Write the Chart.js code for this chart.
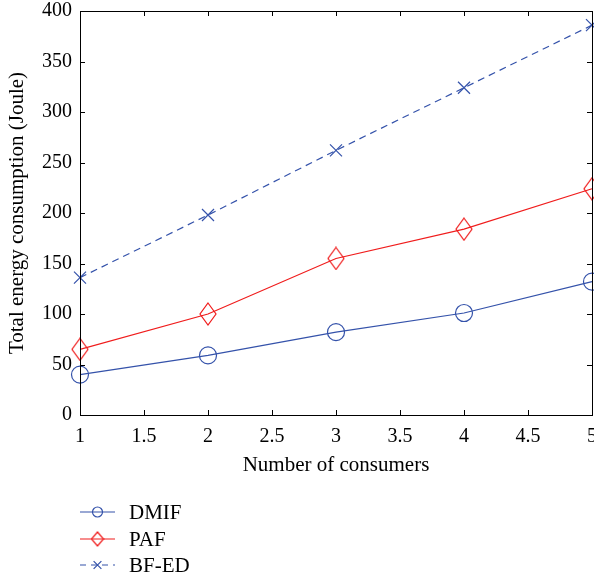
<!DOCTYPE html>
<html lang="en">
<head>
<meta charset="UTF-8" />
<title>Total energy consumption</title>
<style>
  html, body { margin: 0; padding: 0; background: #fff; }
  .box { width: 594px; height: 578px; position: relative; }
</style>
</head>
<body>
<div class="box"><canvas id="energyChart" width="594" height="578"></canvas></div>
<script src="https://cdn.jsdelivr.net/npm/chart.js@4/dist/chart.umd.min.js"></script>
<script>
const consumers = [1, 2, 3, 4, 5];
const dmif = [40, 59, 82, 101, 132];
const paf = [65, 100, 155, 184, 224];
const bfed = [136, 198, 262, 324, 386];
const seriesNames = ['DMIF', 'PAF', 'BF-ED'];

const FONT = '"Liberation Serif", "Times New Roman", serif';
const BLUE = 'rgb(52, 82, 170)';
const RED = 'rgb(240, 28, 28)';
const NONE = 'rgba(0,0,0,0)';

function toPoints(ys) {
  return consumers.map((x, i) => ({ x: x, y: ys[i] }));
}

// hollow diamond, a bit taller than wide
function diamond(hw, hh, color) {
  const c = document.createElement('canvas');
  c.width = hw * 2 + 2;
  c.height = hh * 2 + 2;
  const g = c.getContext('2d');
  const cx = c.width / 2, cy = c.height / 2;
  g.strokeStyle = color;
  g.lineWidth = 1.2;
  g.beginPath();
  g.moveTo(cx, cy - hh);
  g.lineTo(cx + hw, cy);
  g.lineTo(cx, cy + hh);
  g.lineTo(cx - hw, cy);
  g.closePath();
  g.stroke();
  return c;
}
const diamondBig = diamond(8, 11, RED);
const diamondSmall = diamond(6, 7, RED);

// box frame with inward ticks on all four sides
const boxTicks = {
  id: 'boxTicks',
  afterDraw(chart) {
    const { ctx, chartArea: a, scales } = chart;
    ctx.save();
    ctx.strokeStyle = '#000';
    ctx.lineWidth = 1;
    ctx.strokeRect(a.left + 0.5, a.top + 0.5, a.right - a.left, a.bottom - a.top);
    const len = 5;
    ctx.beginPath();
    scales.x.ticks.forEach(t => {
      const px = Math.round(scales.x.getPixelForValue(t.value)) + 0.5;
      ctx.moveTo(px, a.bottom); ctx.lineTo(px, a.bottom - len);
      ctx.moveTo(px, a.top); ctx.lineTo(px, a.top + len);
    });
    scales.y.ticks.forEach(t => {
      const py = Math.round(scales.y.getPixelForValue(t.value)) + 0.5;
      ctx.moveTo(a.left, py); ctx.lineTo(a.left + len, py);
      ctx.moveTo(a.right, py); ctx.lineTo(a.right - len, py);
    });
    ctx.stroke();
    ctx.restore();
  }
};

// legend under the plot: line sample with a smaller marker, then the name
const legendMarks = [
  { style: 'circle', radius: 5 },
  { style: diamondSmall, radius: 7 },
  { style: 'crossRot', radius: 5.5 }
];
const lineLegend = {
  id: 'lineLegend',
  afterDraw(chart) {
    const ctx = chart.ctx;
    const x0 = 80, x1 = 115, tx = 129;
    const rows = [512, 539, 565];
    ctx.save();
    chart.data.datasets.forEach((ds, i) => {
      const y = rows[i];
      ctx.strokeStyle = ds.borderColor;
      ctx.lineWidth = ds.borderWidth;
      ctx.setLineDash(ds.borderDash ? [6, 5] : []);
      ctx.beginPath();
      ctx.moveTo(x0, y);
      ctx.lineTo(x1, y);
      ctx.stroke();
      ctx.setLineDash([]);
      ctx.fillStyle = NONE;
      Chart.helpers.drawPoint(ctx, {
        pointStyle: legendMarks[i].style,
        radius: legendMarks[i].radius,
        borderWidth: ds.borderWidth
      }, (x0 + x1) / 2, y);
      ctx.fillStyle = '#000';
      ctx.font = '21px ' + FONT;
      ctx.textBaseline = 'middle';
      ctx.fillText(ds.label, tx, y + 1);
    });
    ctx.restore();
  }
};

new Chart(document.getElementById('energyChart'), {
  type: 'line',
  data: {
    datasets: [
      {
        label: seriesNames[0], data: toPoints(dmif),
        borderColor: BLUE, backgroundColor: NONE, borderWidth: 1.2,
        pointStyle: 'circle', pointRadius: 8.5, pointBorderColor: BLUE, pointBackgroundColor: NONE
      },
      {
        label: seriesNames[1], data: toPoints(paf),
        borderColor: RED, backgroundColor: NONE, borderWidth: 1.2,
        pointStyle: diamondBig, pointRadius: 11, pointBorderColor: RED, pointBackgroundColor: NONE
      },
      {
        label: seriesNames[2], data: toPoints(bfed),
        borderColor: BLUE, backgroundColor: NONE, borderWidth: 1.2, borderDash: [7, 5],
        pointStyle: 'crossRot', pointRadius: 8.5, pointBorderColor: BLUE, pointBackgroundColor: NONE
      }
    ]
  },
  options: {
    responsive: false,
    animation: false,
    clip: false,
    layout: { autoPadding: false, padding: { top: 11, right: 2, left: 0, bottom: 100 } },
    plugins: { legend: { display: false }, tooltip: { enabled: false } },
    scales: {
      x: {
        type: 'linear', min: 1, max: 5,
        grid: { display: false },
        border: { display: false },
        ticks: {
          stepSize: 0.5, color: '#000', font: { family: FONT, size: 20 }, padding: 2, maxRotation: 0,
          callback: v => String(v)
        },
        title: { display: true, text: 'Number of consumers', color: '#000', font: { family: FONT, size: 21 }, padding: 0 },
        afterFit(s) { s.height = 63; s.paddingLeft = 0; s.paddingRight = 0; }
      },
      y: {
        min: 0, max: 400,
        grid: { display: false },
        border: { display: false },
        ticks: { stepSize: 50, color: '#000', font: { family: FONT, size: 20 }, padding: 0 },
        title: { display: true, text: 'Total energy consumption (Joule)', color: '#000', font: { family: FONT, size: 21 }, padding: 5 },
        afterFit(s) { s.width = 80; s.paddingTop = 0; s.paddingBottom = 0; }
      }
    }
  },
  plugins: [boxTicks, lineLegend]
});
</script>
</body>
</html>
